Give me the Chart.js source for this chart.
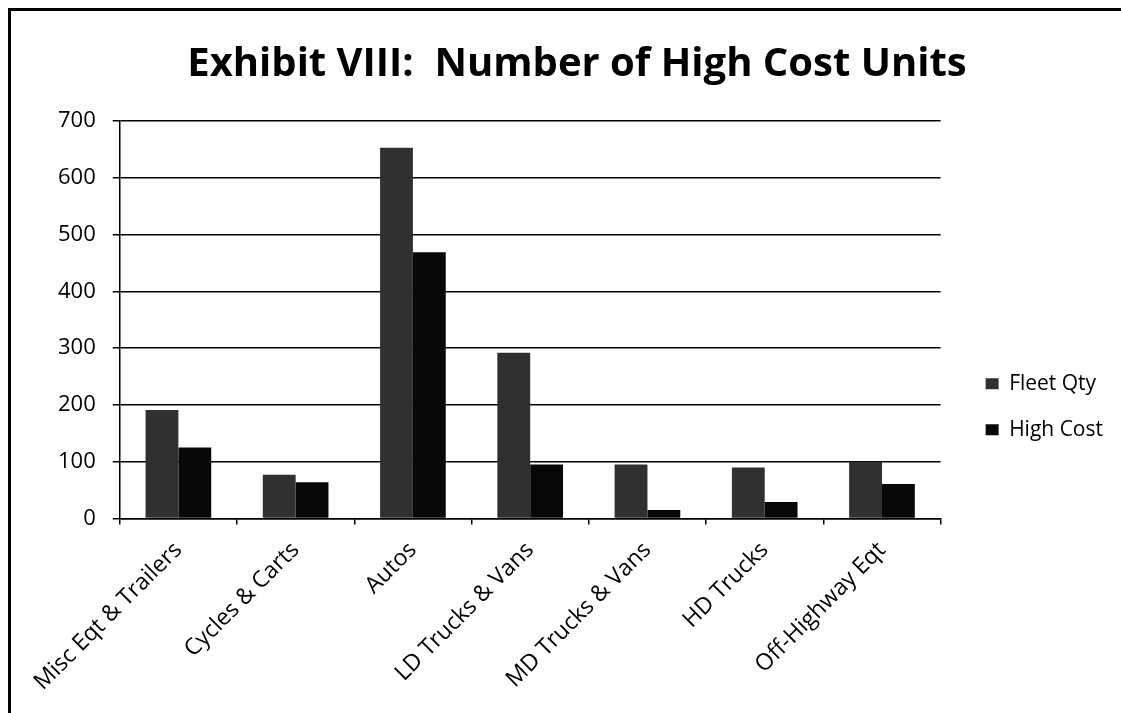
<!DOCTYPE html>
<html>
<head>
<meta charset="utf-8">
<script src="https://cdn.jsdelivr.net/npm/chart.js@4"></script>
<style>
  html, body { margin: 0; padding: 0; background: #fff; }
  body { width: 1121px; height: 713px; overflow: hidden; position: relative; }
  #frame {
    position: absolute; left: 8px; top: 8px; width: 1113px; height: 705px;
    border-left: 3px solid #000; border-top: 3px solid #000;
  }
  #wrap { position: absolute; left: 11px; top: 11px; width: 1110px; height: 702px; }
</style>
</head>
<body>
<div id="frame"></div>
<div id="wrap"><canvas id="chart"></canvas></div>
<script>
// 分類ラベル
const categories = ['Misc Eqt & Trailers', 'Cycles & Carts', 'Autos', 'LD Trucks & Vans',
  'MD Trucks & Vans', 'HD Trucks', 'Off-Highway Eqt'];

// 系列の値
const fleetQty = [191, 77, 653, 292, 95, 90, 100];
const highCost = [125, 64, 469, 95, 15, 29, 61];

// Y軸の目盛り
const yTicks = [0, 100, 200, 300, 400, 500, 600, 700];

const FONT = '"Open Sans", Lato, sans-serif';

// 凡例とプロットの間を空けるためのダミー軸
const spacerAxis = {
  position: 'right',
  display: true,
  min: 0, max: 1,
  grid: { display: false, drawTicks: false },
  border: { display: false },
  ticks: { display: false },
  afterFit(scale) { scale.width = 20; }
};

new Chart(document.getElementById('chart'), {
  type: 'bar',
  data: {
    labels: categories,
    datasets: [
      {
        label: 'Fleet Qty',
        data: fleetQty,
        backgroundColor: '#303030',
        categoryPercentage: 0.56,
        barPercentage: 1.0
      },
      {
        label: 'High Cost',
        data: highCost,
        backgroundColor: '#080808',
        categoryPercentage: 0.56,
        barPercentage: 1.0
      }
    ]
  },
  options: {
    responsive: true,
    maintainAspectRatio: false,
    animation: false,
    layout: { padding: { left: 30, right: 8, top: 0, bottom: 5 } },
    plugins: {
      title: {
        display: true,
        text: 'Exhibit VIII:  Number of High Cost Units',
        color: '#000',
        font: { family: FONT, size: 40, weight: 'bold' },
        padding: { top: 30, bottom: 32 }
      },
      legend: {
        position: 'right',
        align: 'center',
        // 項目を下にずらすための空タイトル
        title: { display: true, text: '', font: { size: 12 }, padding: { top: 40, bottom: 40 } },
        labels: {
          color: '#000',
          font: { family: FONT, size: 21 },
          boxWidth: 13,
          boxHeight: 11,
          padding: 25
        }
      },
      tooltip: { enabled: false }
    },
    scales: {
      x: {
        offset: true,
        grid: {
          display: true,
          offset: true,
          drawOnChartArea: false,
          drawTicks: true,
          tickLength: 6,
          color: '#000',
          lineWidth: 1.5
        },
        border: { display: true, color: '#000', width: 1.5 },
        ticks: {
          color: '#000',
          font: { family: FONT, size: 23 },
          minRotation: 45,
          maxRotation: 45,
          padding: 12
        }
      },
      y: {
        min: 0,
        max: 700,
        afterBuildTicks(scale) {
          scale.ticks = yTicks.map(v => ({ value: v }));
        },
        grid: {
          color: '#000',
          lineWidth: 1.5,
          tickLength: 7
        },
        border: { display: true, color: '#000', width: 1.5 },
        ticks: {
          color: '#000',
          font: { family: FONT, size: 22 },
          padding: 17
        }
      },
      spacer: spacerAxis
    }
  }
});
</script>
</body>
</html>
